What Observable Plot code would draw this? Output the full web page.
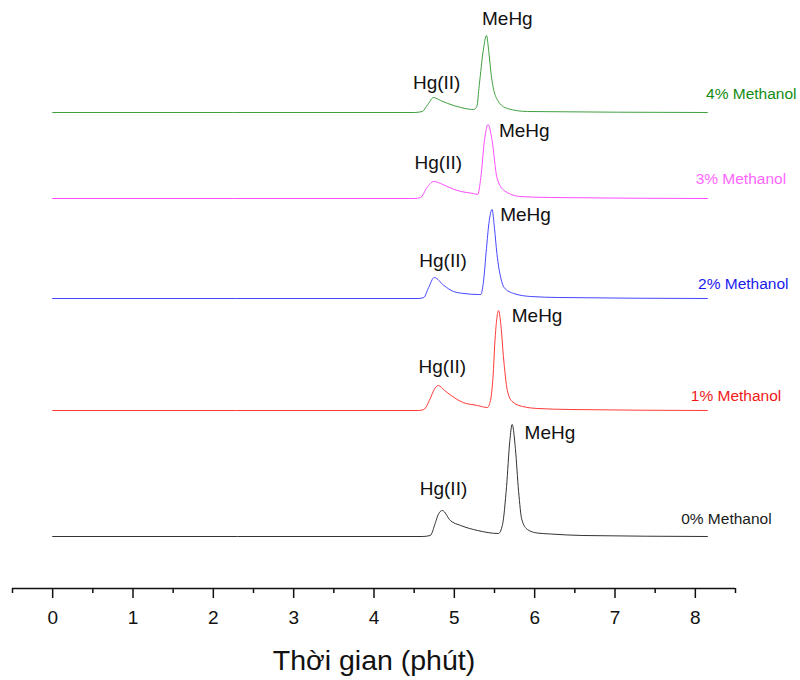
<!DOCTYPE html>
<html>
<head>
<meta charset="utf-8">
<script src="https://cdn.jsdelivr.net/npm/d3@7"></script>
<script src="https://cdn.jsdelivr.net/npm/@observablehq/plot@0.6"></script>
<style>
  html, body { margin: 0; padding: 0; background: #fff; }
  #chart { width: 800px; height: 680px; }
</style>
</head>
<body>
<div id="chart"></div>
<script>
// Series names, colours and vertical offsets (stacked chromatograms, a.u.)
const seriesNames = ["0% Methanol", "1% Methanol", "2% Methanol", "3% Methanol", "4% Methanol"];
const lineColors = ["#333333", "#ff3a3a", "#4646ff", "#ff4cff", "#3fa03f"];
const textColors = ["#1a1a1a", "#f01818", "#1a1af0", "#ff66ff", "#148c14"];
const offsets = [52, 178, 290, 390, 476];

// Chromatogram traces: retention time (min) and signal (a.u., above baseline)
const time0 = [0, 4.60, 4.70, 4.765, 4.80, 4.85, 4.95, 5.08, 5.29, 5.55, 5.60, 5.65, 5.69, 5.72, 5.76, 5.80, 5.84, 5.91, 6.03, 6.20, 6.60, 8.15];
const sig0  = [0, 0,    1,    14,    22,   26,   16,   11,   6,    3,    12,   50,   95,   112,  88,   45,   17,   7,    3.5,  2.5,  1,    0];

const time1 = [0, 4.55, 4.62, 4.70, 4.75, 4.80, 4.88, 4.96, 5.11, 5.29, 5.41, 5.45, 5.48, 5.51, 5.55, 5.58, 5.61, 5.66, 5.72, 5.85, 6.04, 6.45, 8.15];
const sig1  = [0, 0,    1,    12,   21,   25,   20,   15,   8,    5,    3,    10,   32,   75,   100,  85,   55,   20,   9,    4,    2,    1,    0];

const time2 = [0, 4.55, 4.62, 4.68, 4.75, 4.87, 4.99, 5.12, 5.30, 5.33, 5.36, 5.40, 5.43, 5.47, 5.50, 5.53, 5.58, 5.62, 5.74, 5.95, 6.30, 8.15];
const sig2  = [0, 0,    1,    11,   21,   13,   7,    5,    4,    4,    15,   50,   75,   89,   70,   45,   20,   11,   5,    2,    1,    0];

const time3 = [0, 4.50, 4.58, 4.66, 4.745, 4.83, 4.91, 5.08, 5.24, 5.29, 5.33, 5.375, 5.42, 5.47, 5.53, 5.62, 5.82, 6.20, 8.15];
const sig3  = [0, 0,    1,    11,   17,    15,   12,   7,    5,    4,    21,   58,    74,   58,   21,   8,    2,    1,    0];

const time4 = [0, 4.50, 4.60, 4.67, 4.74, 4.83, 4.92, 5.08, 5.24, 5.28, 5.31, 5.36, 5.40, 5.43, 5.46, 5.54, 5.66, 5.91, 8.15];
const sig4  = [0, 0,    1,    8,    15,   12,   9,    5,    3,    6,    27,   62,   77,   60,   37,   12,   4,    1,    0];

const times = [time0, time1, time2, time3, time4];
const signals = [sig0, sig1, sig2, sig3, sig4];

// Peak annotations
const meHgLabelX = [6.19, 6.03, 5.886, 5.87, 5.66];
const meHgLabelY = [156, 273, 374, 458, 570];
const hgLabelX   = [4.865, 4.85, 4.86, 4.80, 4.78];
const hgLabelY   = [100, 222, 328, 426, 506];

// Series labels at right (right-aligned)
const nameLabelX = [8.95, 9.07, 9.16, 9.13, 9.26];
const nameLabelY = [69, 192, 304, 409, 494];

// Axis ticks
const majorTicks = [0, 1, 2, 3, 4, 5, 6, 7, 8];
const minorTicks = [-0.5, 0.5, 1.5, 2.5, 3.5, 4.5, 5.5, 6.5, 7.5, 8.5];
const xTitle = "Thời gian (phút)";

// Build tables
const traceRows = [];
seriesNames.forEach((name, i) => {
  times[i].forEach((t, j) => {
    traceRows.push({series: name, idx: i, t, v: offsets[i] + signals[i][j]});
  });
});
const peakLabels = [];
seriesNames.forEach((name, i) => {
  peakLabels.push({x: meHgLabelX[i], y: meHgLabelY[i], text: "MeHg"});
  peakLabels.push({x: hgLabelX[i], y: hgLabelY[i], text: "Hg(II)"});
});
const nameLabels = seriesNames.map((name, i) => ({x: nameLabelX[i], y: nameLabelY[i], text: name, color: textColors[i]}));

const font = "'Liberation Sans', Arial, Helvetica, sans-serif";

const chart = Plot.plot({
  width: 800,
  height: 680,
  marginTop: 0,
  marginBottom: 92,
  marginLeft: 12,
  marginRight: 65,
  style: {fontFamily: font, background: "#fff", color: "#111"},
  x: {domain: [-0.5, 8.5]},
  y: {domain: [0, 588], axis: null},
  color: {domain: seriesNames, range: lineColors},
  marks: [
    Plot.ruleY([0], {stroke: "#111", strokeWidth: 1.5}),
    Plot.axisX({ticks: minorTicks, tickSize: 5, tickFormat: () => "", label: null, stroke: "#111", strokeWidth: 1.5}),
    Plot.axisX({ticks: majorTicks, tickSize: 10, tickPadding: 12, tickFormat: d3.format("d"), fontSize: 19, label: null, stroke: "#111", strokeWidth: 1.5, fill: "#111"}),
    Plot.text([xTitle], {frameAnchor: "bottom", dy: 72, fontSize: 28.5, fill: "#111", lineAnchor: "middle"}),
    Plot.line(traceRows, {x: "t", y: "v", z: "series", stroke: "series", strokeWidth: 1, curve: "monotone-x"}),
    Plot.text(peakLabels, {x: "x", y: "y", text: "text", fontSize: 19, fill: "#111", lineAnchor: "middle"}),
    Plot.text(nameLabels, {x: "x", y: "y", text: "text", fill: "color", fontSize: 15.5, textAnchor: "end", lineAnchor: "middle"})
  ]
});
document.getElementById("chart").appendChild(chart);
</script>
</body>
</html>
